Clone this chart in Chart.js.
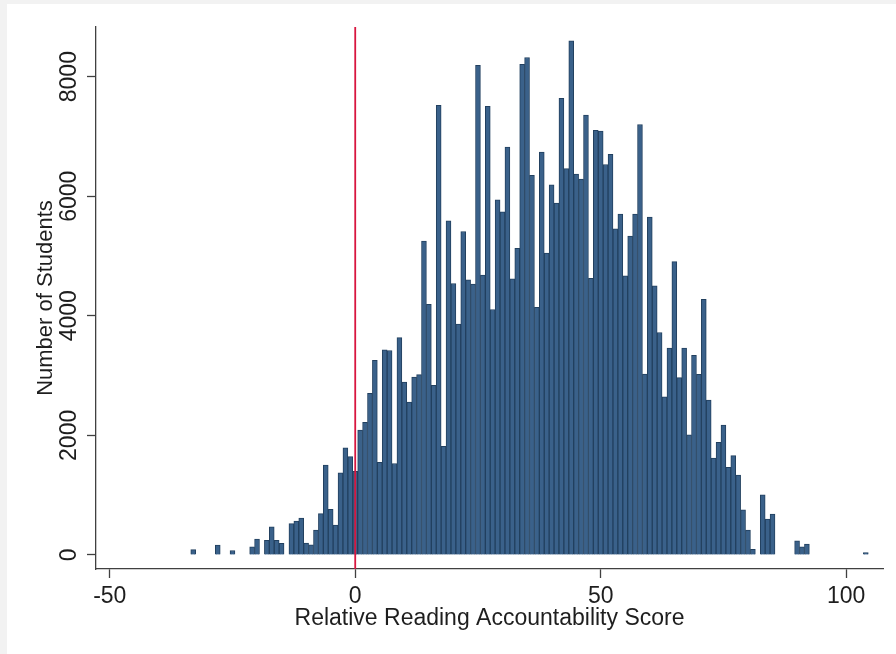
<!DOCTYPE html>
<html>
<head>
<meta charset="utf-8">
<script src="https://cdn.jsdelivr.net/npm/chart.js@4.4.1/dist/chart.umd.min.js"></script>
<style>
  html, body { margin: 0; padding: 0; background: #f2f2f2; width: 896px; height: 654px; overflow: hidden; }
  #paper { position: absolute; left: 7px; top: 4px; width: 889px; height: 650px; background: #ffffff; }
  #c { position: absolute; left: 0; top: 0; }
</style>
</head>
<body>
<div id="paper"></div>
<canvas id="c" width="896" height="654"></canvas>
<script>
// Histogram bins (score, integer-centred, width 1) and student counts
const scores = [-33, -28, -25, -21, -20, -18, -17, -16, -15, -13, -12, -11, -10, -9, -8, -7, -6, -5, -4, -3, -2, -1,
  0, 1, 2, 3, 4, 5, 6, 7, 8, 9, 10, 11, 12, 13, 14, 15, 16, 17, 18, 19,
  20, 21, 22, 23, 24, 25, 26, 27, 28, 29, 30, 31, 32, 33, 34, 35, 36, 37, 38, 39,
  40, 41, 42, 43, 44, 45, 46, 47, 48, 49, 50, 51, 52, 53, 54, 55, 56, 57, 58, 59,
  60, 61, 62, 63, 64, 65, 66, 67, 68, 69, 70, 71, 72, 73, 74, 75, 76, 77, 78, 79,
  80, 81, 83, 84, 85, 90, 91, 92, 104];
const students = [90, 165, 75, 135, 265, 245, 470, 245, 195, 525, 565, 615, 200, 170, 415, 690, 1505, 765, 500, 1375, 1790, 1645,
  1400, 2090, 2220, 2705, 3255, 1550, 3430, 3420, 1530, 3635, 2890, 2555, 2975, 3015, 5250, 4190, 2835, 7520, 1815, 5590,
  4540, 3860, 5410, 4600, 4530, 8190, 4680, 7505, 4105, 5940, 5740, 6820, 4620, 5130, 8205, 8320, 6350, 4140, 6740, 5050,
  6190, 5885, 7635, 6460, 8600, 6370, 6285, 7355, 4625, 7100, 7090, 6530, 6700, 5455, 5700, 4670, 5335, 5700, 7200, 3025,
  5650, 4500, 3720, 2645, 3460, 4905, 2965, 3460, 2010, 3340, 3020, 4275, 2590, 1620, 1885, 2170, 1465, 1660, 1335, 755,
  415, 95, 1005, 600, 685, 235, 135, 180, 40];
const xTickValues = [-50, 0, 50, 100];
const yTickValues = [0, 2000, 4000, 6000, 8000];
const referenceLineX = 0;
const xTitle = 'Relative Reading Accountability Score';
const yTitle = 'Number of Students';

const points = scores.map((s, i) => ({ x: s, y: students[i] }));

const FONT = 'Liberation Sans, Arial, sans-serif';
const AXIS = '#404040';
const TEXT = '#1e1e1e';

const refLine = {
  id: 'refLine',
  afterDatasetsDraw(chart) {
    const { ctx, chartArea, scales } = chart;
    const px = scales.x.getPixelForValue(referenceLineX);
    ctx.save();
    ctx.strokeStyle = '#d8163f';
    ctx.lineWidth = 1.8;
    ctx.beginPath();
    ctx.moveTo(px, chartArea.top);
    ctx.lineTo(px, chartArea.bottom);
    ctx.stroke();
    ctx.restore();
  }
};

new Chart(document.getElementById('c'), {
  type: 'bar',
  data: {
    datasets: [{
      data: points,
      backgroundColor: '#3a618a',
      borderColor: '#22405f',
      borderWidth: 1,
      categoryPercentage: 1,
      barPercentage: 1
    }]
  },
  options: {
    responsive: false,
    animation: false,
    devicePixelRatio: 1,
    layout: { padding: { top: 27, right: 13, left: 0, bottom: 0 } },
    plugins: { legend: { display: false }, tooltip: { enabled: false } },
    scales: {
      x: {
        type: 'linear',
        offset: false,
        min: -52.8,
        max: 107.5,
        afterBuildTicks: (s) => { s.ticks = xTickValues.map(v => ({ value: v })); },
        afterFit: (s) => { s.height = 85; },
        grid: { display: true, offset: false, drawOnChartArea: false, drawTicks: true, tickLength: 9, tickColor: AXIS, tickWidth: 1.3 },
        border: { display: true, color: AXIS, width: 1.3 },
        ticks: { autoSkip: false, maxRotation: 0, padding: 4.9, color: TEXT, font: { family: FONT, size: 23 },
                 callback: (v) => String(v) },
        title: { display: true, text: xTitle, color: TEXT, font: { family: FONT, size: 23 }, padding: { top: 0, bottom: 22 } }
      },
      y: {
        type: 'linear',
        min: -235,
        max: 8830,
        afterBuildTicks: (s) => { s.ticks = yTickValues.map(v => ({ value: v })); },
        afterFit: (s) => { s.width = 96; },
        grid: { display: true, offset: false, drawOnChartArea: false, drawTicks: true, tickLength: 9, tickColor: AXIS, tickWidth: 1.3 },
        border: { display: true, color: AXIS, width: 1.3 },
        ticks: { autoSkip: false, minRotation: 90, maxRotation: 90, crossAlign: 'center', padding: -8.6, color: TEXT, font: { family: FONT, size: 23 },
                 callback: (v) => String(v) },
        title: { display: true, text: yTitle, color: TEXT, font: { family: FONT, size: 22 }, padding: { top: 33, bottom: 0 } }
      }
    }
  },
  plugins: [refLine]
});
</script>
</body>
</html>
